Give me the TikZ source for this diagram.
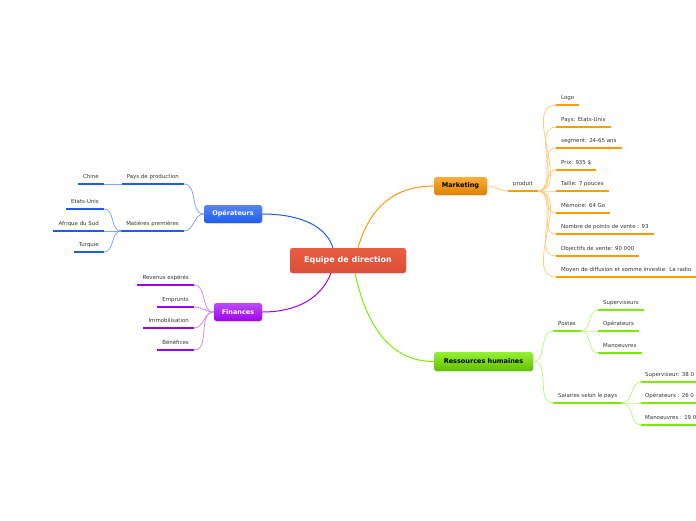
\documentclass[tikz,border=0pt]{standalone}
\usepackage{fontspec}
\setmainfont{DejaVu Sans}
\usetikzlibrary{shadows}
\definecolor{cred}{HTML}{E8533A}
\definecolor{cblue}{HTML}{1F5CF0}
\definecolor{lblue}{HTML}{7FA6F8}
\definecolor{cpurp}{HTML}{A000F0}
\definecolor{lpurp}{HTML}{CF88F8}
\definecolor{corng}{HTML}{FF9A00}
\definecolor{lorng}{HTML}{FFCB80}
\definecolor{cgrn}{HTML}{7AEE00}
\definecolor{lgrn}{HTML}{BDF585}
\definecolor{ctxt}{HTML}{333333}
\begin{document}
\begin{tikzpicture}[x=1pt,y=-1pt,
  mainbox/.style={rounded corners=2.5pt, font=\bfseries\fontsize{6.5}{7}\selectfont, minimum height=18pt, inner sep=0pt,
    drop shadow={shadow xshift=0.7pt,shadow yshift=-0.7pt,opacity=0.25}},
  leaf/.style={font=\fontsize{5.45}{6.5}\selectfont, text=ctxt, inner xsep=5pt, inner ysep=4pt, text height=4pt, text depth=1pt},
  lw/.style={leaf, anchor=south west},
  le/.style={leaf, anchor=south east},
  bul/.style={cblue, line width=2.4pt},
  pul/.style={cpurp, line width=2.4pt},
  oul/.style={corng, line width=2.4pt},
  gul/.style={cgrn, line width=2.4pt},
  bcon/.style={lblue, line width=0.8pt},
  pcon/.style={lpurp, line width=0.8pt},
  ocon/.style={lorng, line width=0.8pt},
  gcon/.style={lgrn, line width=0.8pt},
]
\useasboundingbox (0,0) rectangle (696,520);
\clip (0,0) rectangle (696,520);

% main nodes
\node[mainbox, minimum width=116pt, minimum height=25pt, font=\bfseries\fontsize{8}{9}\selectfont, text=white,
  top color=cred!95!white, bottom color=cred!95!black] (ctr) at (348,260.5) {Equipe de direction};
\node[mainbox, minimum width=58pt, text=white, top color=cblue!75!white, bottom color=cblue] (ops) at (233,214) {Opérateurs};
\node[mainbox, minimum width=48pt, text=white, top color=cpurp!70!white, bottom color=cpurp] (fin) at (238,312) {Finances};
\node[mainbox, minimum width=53pt, text=black, top color=corng!80!white, bottom color=corng!85!black] (mkt) at (460.5,186) {Marketing};
\node[mainbox, minimum width=99pt, minimum height=19pt, text=black, top color=cgrn!80!white, bottom color=cgrn!80!black] (rh) at (483.5,361.5) {Ressources humaines};

% center connectors
\draw[cblue, line width=1pt] ([xshift=-15pt]ctr.north) .. controls +(-8,-25) and +(32,0) .. (ops.east);
\draw[corng, line width=1pt] ([xshift=10pt]ctr.north) .. controls +(12,-42) and +(-38,0) .. (mkt.west);
\draw[cpurp, line width=1pt] ([xshift=-17pt]ctr.south) .. controls +(-10,25) and +(35,0) .. (fin.east);
\draw[cgrn, line width=1pt] ([xshift=7pt]ctr.south) .. controls +(12,55) and +(-42,0) .. (rh.west);

% Operateurs
\node[le] (pays) at (184,184) {Pays de production};
\node[le] (mat) at (184,231) {Matières premières};
\node[le] (chine) at (104,184) {Chine};
\node[le] (eu) at (104,209) {Etats-Unis};
\node[le] (afr) at (104,231) {Afrique du Sud};
\node[le] (tur) at (104,252) {Turquie};
\foreach \n in {pays,mat,chine,eu,afr,tur} \draw[bul] (\n.south west) -- (\n.south east);
\draw[bcon] (ops.west) to[out=180,in=0] (pays.south east);
\draw[bcon] (ops.west) to[out=180,in=0] (mat.south east);
\draw[bcon] (pays.south west) -- (chine.south east);
\draw[bcon] (mat.south west) to[out=180,in=0] (eu.south east);
\draw[bcon] (mat.south west) -- (afr.south east);
\draw[bcon] (mat.south west) to[out=180,in=0] (tur.south east);

% Finances
\node[le] (rev) at (194,285) {Revenus espérés};
\node[le] (emp) at (194,307) {Emprunts};
\node[le] (imm) at (194,328) {Immobilisation};
\node[le] (ben) at (194,350) {Bénéfices};
\foreach \n in {rev,emp,imm,ben} {\draw[pul] (\n.south west) -- (\n.south east);
  \draw[pcon] (fin.west) to[out=180,in=0] (\n.south east);}

% Marketing
\node[lw] (prod) at (508,191) {produit};
\draw[oul] (prod.south west) -- (prod.south east);
\draw[ocon] (mkt.east) to[out=0,in=180] (prod.south west);
\node[lw] (m1) at (556,105) {Logo};
\node[lw] (m2) at (556,127) {Pays: Etats-Unis};
\node[lw] (m3) at (556,148) {segment: 24-65 ans};
\node[lw] (m4) at (556,170) {Prix: 935 \$};
\node[lw] (m5) at (556,191) {Taille: 7 pouces};
\node[lw] (m6) at (556,213) {Mémoire: 64 Go};
\node[lw] (m7) at (556,234) {Nombre de points de vente : 93};
\node[lw] (m8) at (556,256) {Objectifs de vente: 90 000};
\node[lw] (m9) at (556,277) {Moyen de diffusion et somme investie: La radio};
\foreach \n in {m1,m2,m3,m4,m5,m6,m7,m8,m9} {\draw[oul] (\n.south west) -- (\n.south east);
  \draw[ocon] (prod.south east) to[out=0,in=180] (\n.south west);}

% Ressources humaines
\node[lw] (post) at (553,331) {Postes};
\node[lw] (sal) at (553,403) {Salaires selon le pays};
\draw[gul] (post.south west) -- (post.south east);
\draw[gul] (sal.south west) -- (sal.south east);
\draw[gcon] (rh.east) to[out=0,in=180] (post.south west);
\draw[gcon] (rh.east) to[out=0,in=180] (sal.south west);
\node[lw] (p1) at (598,310) {Superviseurs};
\node[lw] (p2) at (598,331) {Opérateurs};
\node[lw] (p3) at (598,353) {Manoeuvres};
\foreach \n in {p1,p2,p3} {\draw[gul] (\n.south west) -- (\n.south east);
  \draw[gcon] (post.south east) to[out=0,in=180] (\n.south west);}
\node[lw, inner xsep=4pt] (s1) at (641,382) {Superviseur: 38 0};
\node[lw, inner xsep=4pt] (s2) at (641,403) {Opérateurs : 26 0};
\node[lw, inner xsep=4pt] (s3) at (641,425) {Manoeuvres : 19 0};
\foreach \n in {s1,s2,s3} {\draw[gul] (\n.south west) -- (\n.south east);
  \draw[gcon] (sal.south east) to[out=0,in=180] (\n.south west);}
\end{tikzpicture}
\end{document}
